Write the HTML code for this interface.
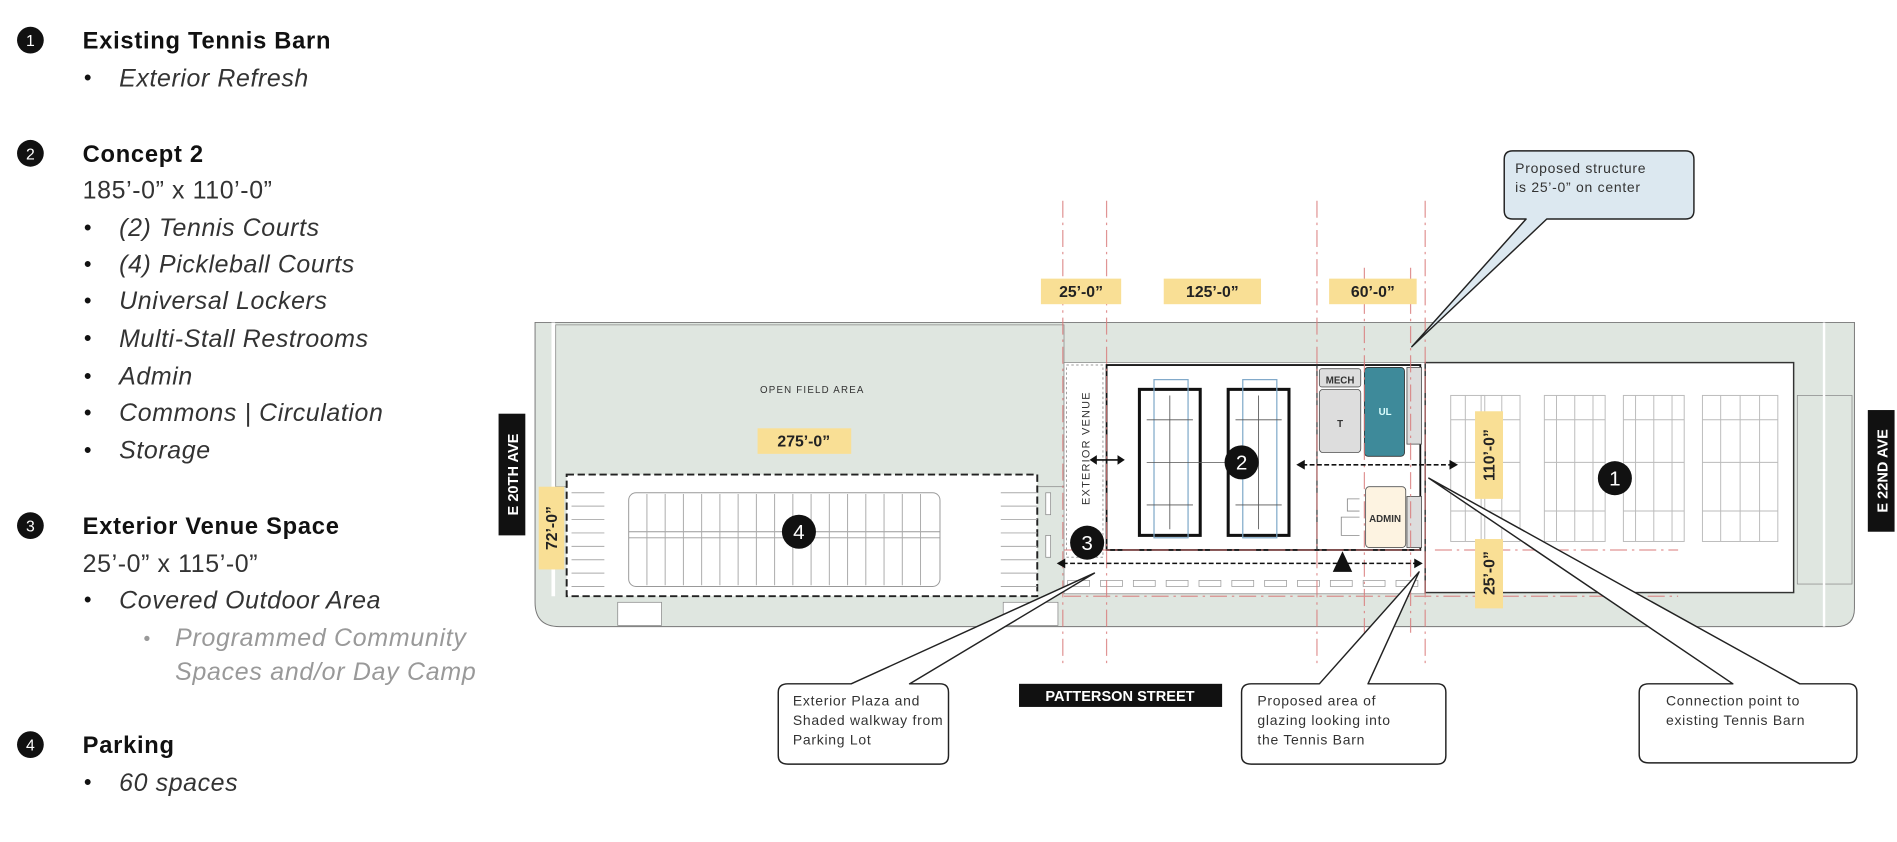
<!DOCTYPE html>
<html><head><meta charset="utf-8"><style>
html,body{margin:0;padding:0;background:#fff;}
svg{display:block;}
text{font-family:"Liberation Sans",sans-serif;}
</style></head><body>
<svg width="1897" height="842" viewBox="0 0 1560 692" preserveAspectRatio="none" xmlns="http://www.w3.org/2000/svg">
<rect width="1560" height="692" fill="#fff"/>
<!-- Legend -->
<g fill="#111">
<circle cx="25" cy="33" r="11"/><text x="25" y="38" fill="#fff" font-size="13" text-anchor="middle">1</text>
<text x="68" y="40" font-size="19.5" font-weight="bold" letter-spacing="0.6">Existing Tennis Barn</text>
<text x="69" y="70" font-size="18">•</text><text x="98" y="71" font-size="20.5" font-style="italic" fill="#333" letter-spacing="0.5">Exterior Refresh</text>

<circle cx="25" cy="126" r="11"/><text x="25" y="131" fill="#fff" font-size="13" text-anchor="middle">2</text>
<text x="68" y="133" font-size="19.5" font-weight="bold" letter-spacing="0.6">Concept 2</text>
<text x="68" y="163" font-size="20.5" fill="#333" letter-spacing="0.5">185’-0” x 110’-0”</text>
<g font-size="20.5" font-style="italic" fill="#333" letter-spacing="0.5">
<text x="98" y="194">(2) Tennis Courts</text>
<text x="98" y="224">(4) Pickleball Courts</text>
<text x="98" y="254">Universal Lockers</text>
<text x="98" y="285">Multi-Stall Restrooms</text>
<text x="98" y="316">Admin</text>
<text x="98" y="346">Commons | Circulation</text>
<text x="98" y="377">Storage</text>
</g>
<g font-size="18"><text x="69" y="193">•</text><text x="69" y="223">•</text><text x="69" y="253">•</text><text x="69" y="284">•</text><text x="69" y="315">•</text><text x="69" y="345">•</text><text x="69" y="376">•</text></g>

<circle cx="25" cy="432" r="11"/><text x="25" y="437" fill="#fff" font-size="13" text-anchor="middle">3</text>
<text x="68" y="439" font-size="19.5" font-weight="bold" letter-spacing="0.6">Exterior Venue Space</text>
<text x="68" y="470" font-size="20.5" fill="#333" letter-spacing="0.5">25’-0” x 115’-0”</text>
<text x="69" y="499" font-size="18">•</text><text x="98" y="500" font-size="20.5" font-style="italic" fill="#333" letter-spacing="0.5">Covered Outdoor Area</text>
<text x="118" y="530" font-size="16" fill="#999">•</text>
<text x="144" y="531" font-size="20.5" font-style="italic" fill="#999" letter-spacing="0.6">Programmed Community</text>
<text x="144" y="559" font-size="20.5" font-style="italic" fill="#999" letter-spacing="0.6">Spaces and/or Day Camp</text>

<circle cx="25" cy="612" r="11"/><text x="25" y="617" fill="#fff" font-size="13" text-anchor="middle">4</text>
<text x="68" y="619" font-size="19.5" font-weight="bold" letter-spacing="0.6">Parking</text>
<text x="69" y="649" font-size="18">•</text><text x="98" y="650" font-size="20.5" font-style="italic" fill="#333" letter-spacing="0.5">60 spaces</text>
</g>

<!-- Site base -->
<path d="M440 265 H1525 V500 Q1525 515 1510 515 H460 Q440 515 440 495 Z" fill="#dfe6e0" stroke="#777" stroke-width="0.8"/>
<line x1="455" y1="265" x2="455" y2="490" stroke="#fff" stroke-width="3"/>
<rect x="457" y="267" width="418" height="133" fill="#dfe6e0" stroke="#888" stroke-width="0.6"/>
<text x="668" y="323" font-size="8" fill="#333" text-anchor="middle" letter-spacing="1">OPEN FIELD AREA</text>
<!-- parking -->
<rect x="466" y="390" width="387" height="100" fill="#fff" stroke="#222" stroke-width="1.6" stroke-dasharray="6 3"/>
<rect x="517" y="405" width="256" height="77" rx="6" fill="none" stroke="#999" stroke-width="0.8"/>
<line x1="517" y1="437" x2="773" y2="437" stroke="#999" stroke-width="0.8"/>
<line x1="517" y1="442" x2="773" y2="442" stroke="#999" stroke-width="0.8"/>
<g stroke="#aaa" stroke-width="0.8">
<path d="M532 406V481M547 406V481M562 406V481M577 406V481M592 406V481M607 406V481M622 406V481M637 406V481M652 406V481M667 406V481M682 406V481M697 406V481M712 406V481M727 406V481M742 406V481M757 406V481"/>
<path d="M470 405H497M470 416H497M470 427H497M470 438H497M470 449H497M470 460H497M470 471H497M470 482H497"/>
<path d="M823 405H853M823 416H853M823 427H853M823 438H853M823 449H853M823 460H853M823 471H853M823 482H853"/>
</g>
<g fill="#fff" stroke="#888" stroke-width="0.6"><rect x="508" y="495" width="36" height="19"/><rect x="825" y="495" width="45" height="19"/><rect x="860" y="405" width="4" height="18"/><rect x="860" y="440" width="4" height="18"/></g>

<!-- Building 2 zone -->
<rect x="875" y="298" width="297" height="190" fill="#fff" stroke="#888" stroke-width="0.6"/>
<rect x="877" y="300" width="30" height="158" fill="none" stroke="#999" stroke-width="0.8" stroke-dasharray="2 2"/>
<text transform="translate(896 415) rotate(-90)" font-size="9" fill="#333" letter-spacing="1">EXTERIOR VENUE</text>
<rect x="910" y="300" width="258" height="152" fill="#fff" stroke="#111" stroke-width="1.5"/>
<line x1="1083" y1="300" x2="1083" y2="452" stroke="#333" stroke-width="1"/>
<!-- courts -->
<g>
<rect x="937" y="320" width="50" height="120" fill="none" stroke="#111" stroke-width="2.5"/>
<rect x="949" y="312" width="28" height="130" fill="none" stroke="#7fa9c9" stroke-width="1"/>
<rect x="1010" y="320" width="50" height="120" fill="none" stroke="#111" stroke-width="2.5"/>
<rect x="1022" y="312" width="28" height="130" fill="none" stroke="#7fa9c9" stroke-width="1"/>
<g stroke="#555" stroke-width="0.7"><path d="M943 345H981M943 380H1020M943 415H981M962 325V435M1016 345H1054M1016 415H1054M1035 325V435"/></g>
</g>
<rect x="1085" y="303" width="34" height="15" rx="2" fill="#ddd" stroke="#555" stroke-width="0.7"/>
<text x="1102" y="315" font-size="8" font-weight="bold" text-anchor="middle" fill="#333">MECH</text>
<rect x="1085" y="320" width="34" height="52" rx="3" fill="#ddd" stroke="#555" stroke-width="0.7"/>
<text x="1102" y="351" font-size="8" font-weight="bold" text-anchor="middle" fill="#333">T</text>
<rect x="1122" y="302" width="33" height="73" rx="3" fill="#3e8a9a" stroke="#333" stroke-width="0.7"/>
<text x="1139" y="341" font-size="8" font-weight="bold" text-anchor="middle" fill="#dff">UL</text>
<rect x="1157" y="302" width="12" height="63" fill="#ddd" stroke="#555" stroke-width="0.7"/>
<rect x="1157" y="408" width="12" height="42" fill="#ddd" stroke="#555" stroke-width="0.7"/>
<rect x="1123" y="400" width="33" height="50" rx="3" fill="#fdf3e1" stroke="#555" stroke-width="0.7"/>
<text x="1139" y="429" font-size="8" font-weight="bold" text-anchor="middle" fill="#333">ADMIN</text>
<g fill="none" stroke="#888" stroke-width="0.7"><path d="M1118 410H1108V420H1118M1118 425H1103V440H1118"/></g>
<!-- walkway -->
<g fill="#fff" stroke="#999" stroke-width="0.6">
<rect x="878" y="477" width="18" height="5"/><rect x="905" y="477" width="18" height="5"/><rect x="932" y="477" width="18" height="5"/><rect x="959" y="477" width="18" height="5"/><rect x="986" y="477" width="18" height="5"/><rect x="1013" y="477" width="18" height="5"/><rect x="1040" y="477" width="18" height="5"/><rect x="1067" y="477" width="18" height="5"/><rect x="1094" y="477" width="18" height="5"/><rect x="1121" y="477" width="18" height="5"/><rect x="1148" y="477" width="18" height="5"/>
</g>

<!-- Barn -->
<rect x="1172" y="298" width="303" height="189" fill="#fff" stroke="#333" stroke-width="1.2"/>
<g fill="none" stroke="#bbb" stroke-width="0.8">
<rect x="1193" y="325" width="28" height="120"/><rect x="1218" y="325" width="32" height="120"/>
<path d="M1193 345H1250M1193 380H1250M1193 420H1250M1205 325V445M1235 325V445"/>
<rect x="1270" y="325" width="50" height="120"/><path d="M1270 345H1320M1270 380H1320M1270 420H1320M1295 325V445M1280 325V445M1310 325V445"/>
<rect x="1335" y="325" width="50" height="120"/><path d="M1335 345H1385M1335 380H1385M1335 420H1385M1360 325V445M1345 325V445M1375 325V445"/>
<rect x="1400" y="325" width="62" height="120"/><path d="M1400 345H1462M1400 380H1462M1400 420H1462M1431 325V445M1415 325V445M1447 325V445"/>
</g>
<rect x="1478" y="325" width="45" height="155" fill="#dfe6e0" stroke="#888" stroke-width="0.6"/>
<line x1="1500" y1="265" x2="1500" y2="515" stroke="#fff" stroke-width="2"/>

<!-- red dashed grid -->
<g stroke="#d97a7a" stroke-width="1" stroke-dasharray="14 4 2 4" opacity="0.8">
<line x1="874" y1="165" x2="874" y2="545"/><line x1="910" y1="165" x2="910" y2="545"/>
<line x1="1083" y1="165" x2="1083" y2="545"/><line x1="1122" y1="220" x2="1122" y2="520"/>
<line x1="1160" y1="220" x2="1160" y2="520"/><line x1="1172" y1="165" x2="1172" y2="545"/>
<line x1="875" y1="452" x2="1168" y2="452"/><line x1="1180" y1="452" x2="1380" y2="452"/>
<line x1="875" y1="490" x2="1380" y2="490"/>
</g>

<!-- arrows -->
<g stroke="#111" stroke-width="1.3" fill="none" stroke-dasharray="4 2">
<line x1="1071" y1="382" x2="1194" y2="382"/><line x1="874" y1="463" x2="1165" y2="463"/>
</g>
<line x1="899" y1="378" x2="922" y2="378" stroke="#111" stroke-width="1.3"/>
<g fill="#111">
<path d="M896 378l6-4v8z"/><path d="M925 378l-6-4v8z"/>
<path d="M1066 382l7-4v8z"/><path d="M1199 382l-7-4v8z"/>
<path d="M869 463l7-4v8z"/><path d="M1170 463l-7-4v8z"/>
<path d="M1104 453l-8 17h16z"/>
</g>

<!-- markers -->
<g fill="#111">
<circle cx="1328" cy="393" r="14"/><circle cx="1021" cy="380" r="14"/><circle cx="894" cy="446" r="14"/><circle cx="657" cy="437" r="14"/>
</g>
<g fill="#fff" font-size="17" text-anchor="middle">
<text x="1328" y="399">1</text><text x="1021" y="386">2</text><text x="894" y="452">3</text><text x="657" y="443">4</text>
</g>

<!-- dims -->
<g fill="#f9df95">
<rect x="856" y="229" width="66" height="21"/><rect x="957" y="229" width="80" height="21"/><rect x="1093" y="229" width="72" height="21"/>
<rect x="623" y="352" width="77" height="21"/>
<rect x="443" y="400" width="21" height="68"/><rect x="1213" y="338" width="23" height="72"/><rect x="1213" y="443" width="23" height="57"/>
</g>
<g font-size="13" font-weight="bold" fill="#222" text-anchor="middle">
<text x="889" y="244">25’-0”</text><text x="997" y="244">125’-0”</text><text x="1129" y="244">60’-0”</text>
<text x="661" y="367">275’-0”</text>
<text transform="translate(458 434) rotate(-90)">72’-0”</text>
<text transform="translate(1229 374) rotate(-90)">110’-0”</text>
<text transform="translate(1229 471) rotate(-90)">25’-0”</text>
</g>

<!-- streets -->
<rect x="410" y="340" width="22" height="100" fill="#111"/>
<text transform="translate(426 390) rotate(-90)" font-size="12" font-weight="bold" fill="#fff" text-anchor="middle">E 20TH AVE</text>
<rect x="1536" y="337" width="22" height="100" fill="#111"/>
<text transform="translate(1552 387) rotate(-90)" font-size="12" font-weight="bold" fill="#fff" text-anchor="middle">E 22ND AVE</text>
<rect x="838" y="562" width="167" height="19" fill="#111"/>
<text x="921" y="576" font-size="12" font-weight="bold" fill="#fff" text-anchor="middle">PATTERSON STREET</text>

<!-- callouts -->
<g stroke="#222" stroke-width="1.2" stroke-linejoin="round">
<path d="M1244 124H1386Q1393 124 1393 131V173Q1393 180 1386 180H1272L1161 285L1255 180H1244Q1237 180 1237 173V131Q1237 124 1244 124Z" fill="#dce8f0"/>
<path d="M648 562H700L900 471L748 562H773Q780 562 780 569V621Q780 628 773 628H648Q640 628 640 621V569Q640 562 648 562Z" fill="#fff"/>
<path d="M1029 562H1085L1167 470L1125 562H1182Q1189 562 1189 569V621Q1189 628 1182 628H1029Q1021 628 1021 621V569Q1021 562 1029 562Z" fill="#fff"/>
<path d="M1356 562H1425L1175 393L1480 562H1520Q1527 562 1527 569V620Q1527 627 1520 627H1356Q1348 627 1348 620V569Q1348 562 1356 562Z" fill="#fff"/>
</g>
<g font-size="11.5" fill="#333" letter-spacing="0.6">
<text x="1246" y="142">Proposed structure</text><text x="1246" y="158">is 25’-0” on center</text>
<text x="652" y="580">Exterior Plaza and</text><text x="652" y="596">Shaded walkway from</text><text x="652" y="612">Parking Lot</text>
<text x="1034" y="580">Proposed area of</text><text x="1034" y="596">glazing looking into</text><text x="1034" y="612">the Tennis Barn</text>
<text x="1370" y="580">Connection point to</text><text x="1370" y="596">existing Tennis Barn</text>
</g>
</svg>
</body></html>
